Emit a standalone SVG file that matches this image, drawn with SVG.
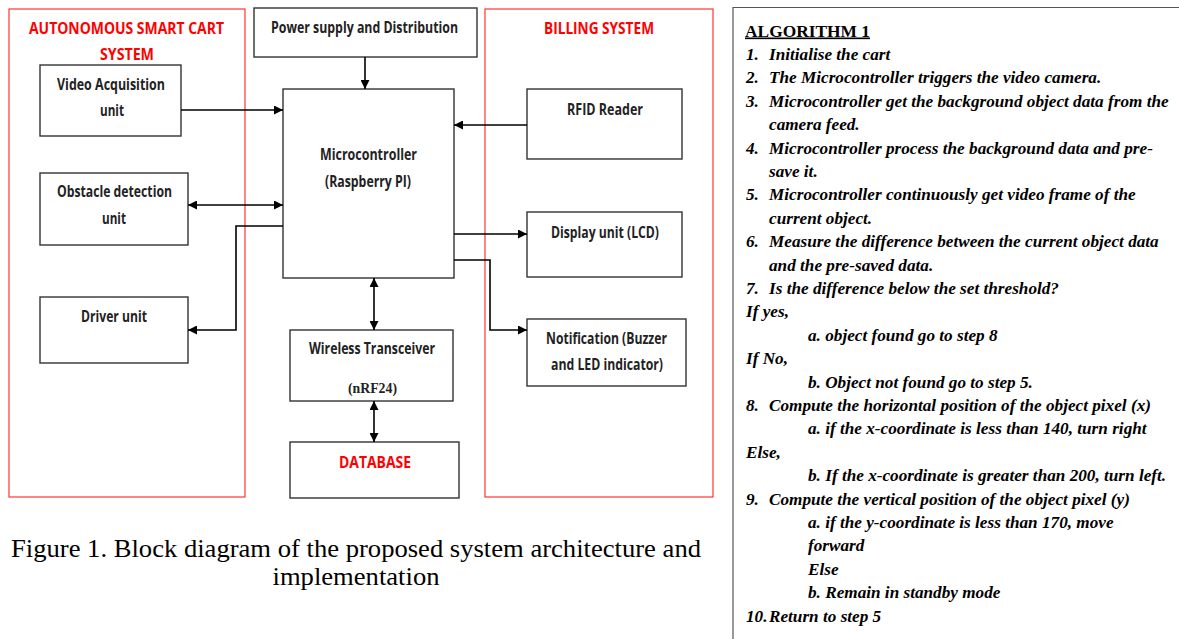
<svg xmlns="http://www.w3.org/2000/svg" width="1179" height="639" viewBox="0 0 1179 639">
<style>
.box{fill:#fff;stroke:#333;stroke-width:1.4}
.grp{fill:none;stroke:#f33;stroke-width:1.2}
.lbl{font-family:"Open Sans","Liberation Sans",sans-serif;font-weight:bold;font-size:15.5px;fill:#222;text-anchor:middle}
.red{fill:#f00}
.con{fill:none;stroke:#000;stroke-width:1.6}
.alg{font-family:"Liberation Serif","Times New Roman",serif;font-weight:bold;font-style:italic;font-size:17.2px;fill:#000}
.cap{font-family:"Liberation Serif","Times New Roman",serif;font-size:25px;fill:#000;text-anchor:middle}
</style>
<defs>
<marker id="ah" viewBox="0 0 10 10" refX="10" refY="5" markerWidth="9" markerHeight="9" markerUnits="userSpaceOnUse" orient="auto-start-reverse">
<path d="M0,0 L10,5 L0,10 z" fill="#000"/>
</marker>
</defs>
<rect width="1179" height="639" fill="#fff"/>

<g id="autonomous-group">
<rect class="grp" x="9" y="9" width="236" height="488"/>
<text class="lbl red" x="126.5" y="34" textLength="195" lengthAdjust="spacingAndGlyphs">AUTONOMOUS SMART CART</text>
<text class="lbl red" x="127" y="60" textLength="54" lengthAdjust="spacingAndGlyphs">SYSTEM</text>
</g>
<g id="billing-group">
<rect class="grp" x="485" y="9" width="228" height="488"/>
<text class="lbl red" x="599" y="34" textLength="110" lengthAdjust="spacingAndGlyphs">BILLING SYSTEM</text>
</g>

<g id="power">
<rect class="box" x="254" y="8" width="223" height="49"/>
<text class="lbl" x="364.5" y="33" textLength="187" lengthAdjust="spacingAndGlyphs">Power supply and Distribution</text>
</g>
<g id="video">
<rect class="box" x="40" y="65" width="141" height="71"/>
<text class="lbl" x="111" y="90" textLength="108" lengthAdjust="spacingAndGlyphs">Video Acquisition</text>
<text class="lbl" x="112" y="116" textLength="24" lengthAdjust="spacingAndGlyphs">unit</text>
</g>
<g id="obstacle">
<rect class="box" x="40" y="173" width="148" height="72"/>
<text class="lbl" x="114.5" y="197" textLength="115" lengthAdjust="spacingAndGlyphs">Obstacle detection</text>
<text class="lbl" x="114" y="224" textLength="24" lengthAdjust="spacingAndGlyphs">unit</text>
</g>
<g id="driver">
<rect class="box" x="40" y="297" width="148" height="66"/>
<text class="lbl" x="114" y="322" textLength="66" lengthAdjust="spacingAndGlyphs">Driver unit</text>
</g>
<g id="microcontroller">
<rect class="box" x="283" y="89" width="171" height="189"/>
<text class="lbl" x="368.5" y="160" textLength="97" lengthAdjust="spacingAndGlyphs">Microcontroller</text>
<text class="lbl" x="368" y="187" textLength="86" lengthAdjust="spacingAndGlyphs">(Raspberry PI)</text>
</g>
<g id="rfid">
<rect class="box" x="527" y="89" width="155" height="70"/>
<text class="lbl" x="605" y="115" textLength="76" lengthAdjust="spacingAndGlyphs">RFID Reader</text>
</g>
<g id="display">
<rect class="box" x="527" y="212" width="155" height="65"/>
<text class="lbl" x="605" y="238" textLength="108" lengthAdjust="spacingAndGlyphs">Display unit (LCD)</text>
</g>
<g id="notification">
<rect class="box" x="527" y="319" width="159" height="67"/>
<text class="lbl" x="606.5" y="344" textLength="121" lengthAdjust="spacingAndGlyphs">Notification (Buzzer</text>
<text class="lbl" x="607" y="370" textLength="112" lengthAdjust="spacingAndGlyphs">and LED indicator)</text>
</g>
<g id="wireless">
<rect class="box" x="290" y="330" width="163" height="71"/>
<text class="lbl" x="372" y="354" textLength="126" lengthAdjust="spacingAndGlyphs">Wireless Transceiver</text>
<text x="372.5" y="393" font-family="Liberation Serif,Times New Roman,serif" font-weight="bold" font-size="14" fill="#222" text-anchor="middle" textLength="49" lengthAdjust="spacingAndGlyphs">(nRF24)</text>
</g>
<g id="database">
<rect class="box" x="290" y="442" width="169" height="56"/>
<text class="lbl red" x="375" y="468" textLength="72" lengthAdjust="spacingAndGlyphs">DATABASE</text>
</g>

<g id="connectors">
<line class="con" x1="365" y1="57" x2="365" y2="89" marker-end="url(#ah)"/>
<line class="con" x1="181" y1="110" x2="283" y2="110" marker-end="url(#ah)"/>
<line class="con" x1="188" y1="205" x2="283" y2="205" marker-start="url(#ah)" marker-end="url(#ah)"/>
<polyline class="con" points="283,226 236,226 236,330 188,330" marker-end="url(#ah)"/>
<line class="con" x1="527" y1="125" x2="454" y2="125" marker-end="url(#ah)"/>
<line class="con" x1="454" y1="234" x2="527" y2="234" marker-end="url(#ah)"/>
<polyline class="con" points="454,260 490,260 490,330 527,330" marker-end="url(#ah)"/>
<line class="con" x1="374" y1="278" x2="374" y2="330" marker-start="url(#ah)" marker-end="url(#ah)"/>
<line class="con" x1="374" y1="401" x2="374" y2="442" marker-start="url(#ah)" marker-end="url(#ah)"/>
</g>

<g id="caption">
<text class="cap" x="356" y="557" textLength="690" lengthAdjust="spacingAndGlyphs">Figure 1. Block diagram of the proposed system architecture and</text>
<text class="cap" x="356" y="585" textLength="167" lengthAdjust="spacingAndGlyphs">implementation</text>
</g>

<g id="algorithm">
<polyline points="733,639 733,7.5 1179,7.5" fill="none" stroke="#555" stroke-width="1.2"/>
<text x="745" y="36.5" font-family="Liberation Serif,Times New Roman,serif" font-weight="bold" font-size="16.5" text-decoration="underline" textLength="125" lengthAdjust="spacingAndGlyphs">ALGORITHM 1</text>
<g class="alg">
<text x="746" y="59.9">1.</text><text x="769" y="59.9">Initialise the cart</text>
<text x="746" y="83.3">2.</text><text x="769" y="83.3">The Microcontroller triggers the video camera.</text>
<text x="746" y="106.7">3.</text><text x="769" y="106.7">Microcontroller get the background object data from the</text>
<text x="769" y="130.1">camera feed.</text>
<text x="746" y="153.5">4.</text><text x="769" y="153.5">Microcontroller process the background data and pre-</text>
<text x="769" y="176.9">save it.</text>
<text x="746" y="200.3">5.</text><text x="769" y="200.3">Microcontroller continuously get video frame of the</text>
<text x="769" y="223.7">current object.</text>
<text x="746" y="247.1">6.</text><text x="769" y="247.1">Measure the difference between the current object data</text>
<text x="769" y="270.5">and the pre-saved data.</text>
<text x="746" y="293.9">7.</text><text x="769" y="293.9">Is the difference below the set threshold?</text>
<text x="746" y="317.3">If yes,</text>
<text x="808" y="340.7">a. object found go to step 8</text>
<text x="746" y="364.1">If No,</text>
<text x="808" y="387.5">b. Object not found go to step 5.</text>
<text x="746" y="410.9">8.</text><text x="769" y="410.9">Compute the horizontal position of the object pixel (x)</text>
<text x="808" y="434.3">a. if the x-coordinate is less than 140, turn right</text>
<text x="746" y="457.7">Else,</text>
<text x="808" y="481.1">b. If the x-coordinate is greater than 200, turn left.</text>
<text x="746" y="504.5">9.</text><text x="769" y="504.5">Compute the vertical position of the object pixel (y)</text>
<text x="808" y="527.9">a. if the y-coordinate is less than 170, move</text>
<text x="808" y="551.3">forward</text>
<text x="808" y="574.7">Else</text>
<text x="808" y="598.1">b. Remain in standby mode</text>
<text x="746" y="621.5">10.</text><text x="769" y="621.5">Return to step 5</text>
</g>
</g>
</svg>
